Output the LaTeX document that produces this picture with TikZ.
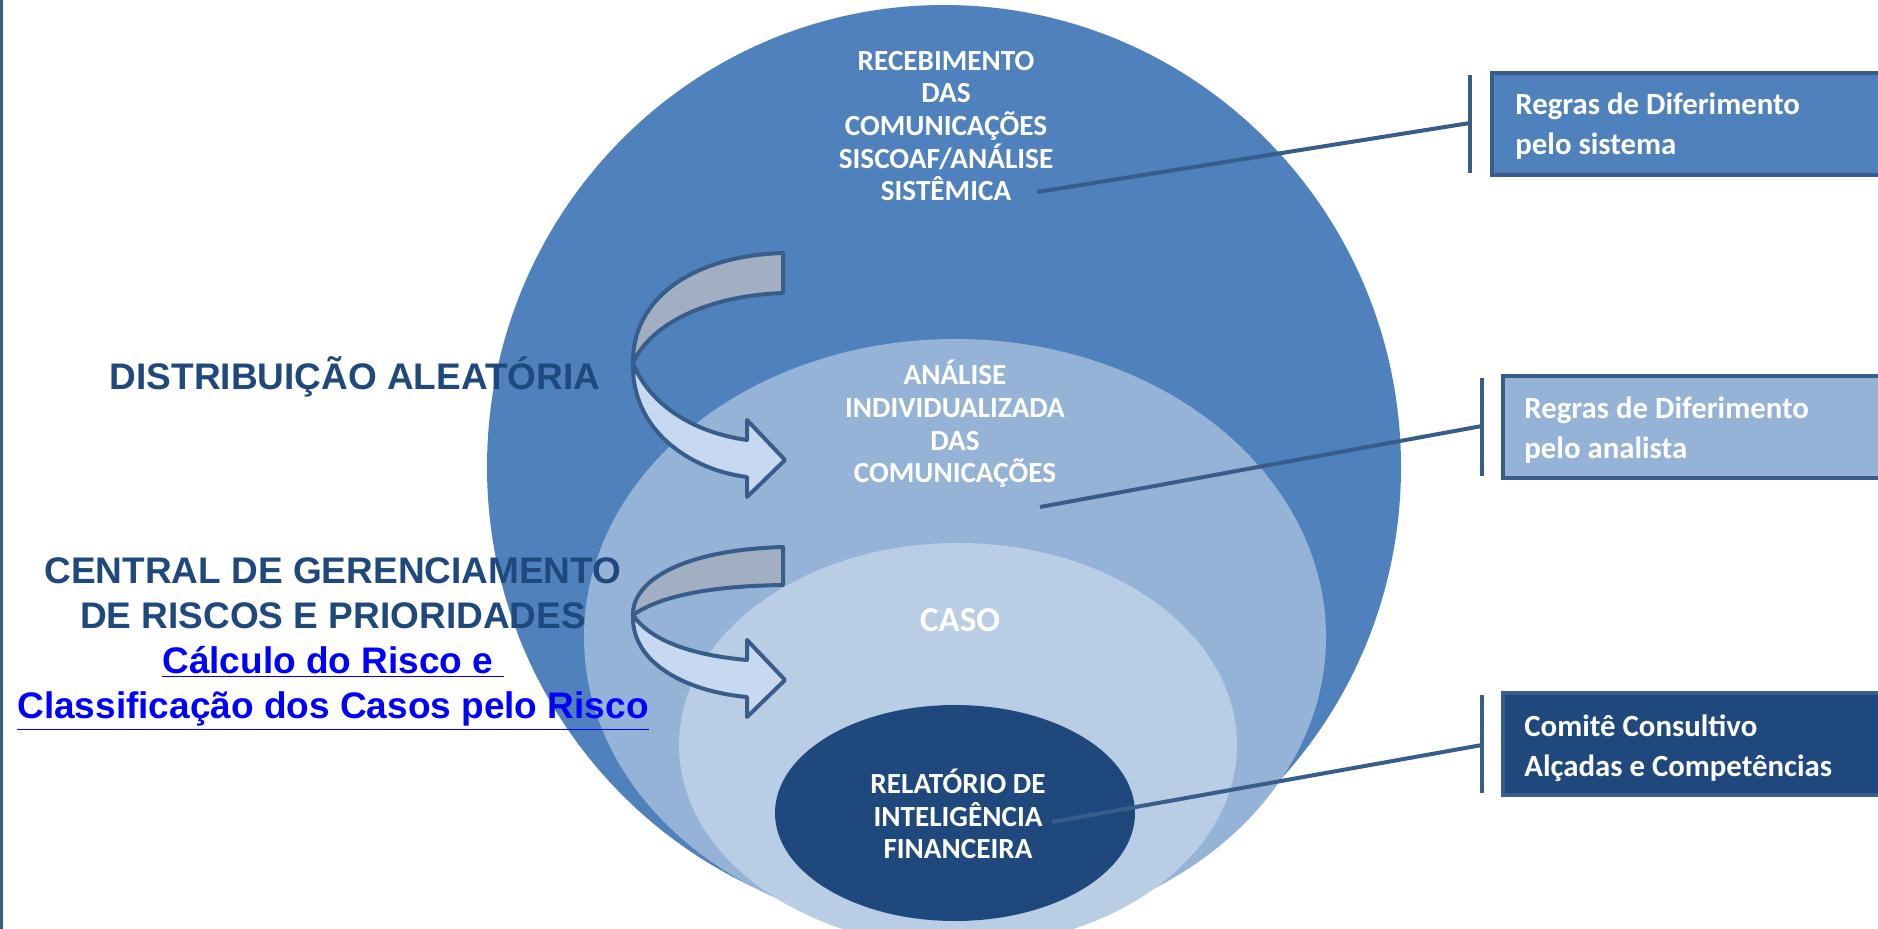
\documentclass[tikz,border=0pt]{standalone}
\usepackage{fontspec}
\setmainfont{Carlito}
\newfontfamily\arialfont{Liberation Sans}
\usepackage{xcolor}
\definecolor{bigblue}{HTML}{4F81BD}
\definecolor{midblue}{HTML}{95B3D7}
\definecolor{paleblue}{HTML}{B9CDE5}
\definecolor{darkblue}{HTML}{1F497D}
\definecolor{edgeblue}{HTML}{385D8A}
\definecolor{bandgray}{HTML}{A2AFC3}
\definecolor{bandlight}{HTML}{C6D9F1}
\definecolor{linkblue}{HTML}{0000FF}
\tikzset{%
  rimtext/.style={text=white, font=\bfseries\fontsize{14.6pt}{16.3pt}\selectfont, align=center},
  boxtext/.style={text=white, font=\bfseries\fontsize{15.4pt}{20pt}\selectfont, align=left, anchor=west, inner sep=0pt},
  sidetext/.style={text=darkblue, font=\arialfont\bfseries\fontsize{18.5pt}{22.6pt}\selectfont, align=center},
  leader/.style={draw=edgeblue, line width=2pt},
  ribbon/.style={draw=edgeblue, line width=2pt, line join=round},
  %panel/.style={draw=edgeblue, line width=2pt}
}

\begin{document}
\begin{tikzpicture}[x=0.5pt,y=-0.5pt]
    \useasboundingbox (0,0) rectangle (1878,929);
    \clip (0,0) rectangle (1878,929);
    \draw[edgeblue, line width=1.5pt] (1.5,0) -- (1.5,929);
    \fill[bigblue] (944,467) ellipse [x radius=457, y radius=462];
    \fill[midblue] (955,637) ellipse [x radius=371, y radius=298];
    \fill[paleblue] (958,745) ellipse [x radius=279, y radius=202];
    \fill[darkblue] (955,813) ellipse [x radius=180, y radius=108];
    \node[rimtext] (recebimento) at (946,126) {RECEBIMENTO\\DAS\\COMUNICAÇÕES\\SISCOAF/ANÁLISE\\SISTÊMICA};
    \node[rimtext] (analise) at (955,424) {ANÁLISE\\INDIVIDUALIZADA\\DAS\\COMUNICAÇÕES};
    \node[rimtext, font=\bfseries\fontsize{17.5pt}{20pt}\selectfont] (caso) at (960,620) {CASO};
    \node[rimtext] (relatorio) at (958,814) {RELATÓRIO DE\\INTELIGÊNCIA\\FINANCEIRA};
    \filldraw[ribbon, fill=bandgray] (783,253) .. controls (690,256) and (632,300) .. (633,363) .. controls (650,325) and (705,296) .. (783,293) -- cycle;
    \filldraw[ribbon, fill=bandlight] (633,363) .. controls (631,430) and (690,470) .. (747,477) -- (747,497) -- (785,460) -- (747,420) -- (747,440) .. controls (690,432) and (648,402) .. (633,363) -- cycle;
    \filldraw[ribbon, fill=bandgray] (783,547) .. controls (680,550) and (632,582) .. (633,615) .. controls (660,596) and (710,586) .. (783,585) -- cycle;
    \filldraw[ribbon, fill=bandlight] (633,615) .. controls (631,665) and (690,692) .. (747,697) -- (747,717) -- (785,680) -- (747,640) -- (747,660) .. controls (690,655) and (650,640) .. (633,615) -- cycle;
    \node[sidetext] (distrib) at (355,377) {DISTRIBUIÇÃO ALEATÓRIA};
    \node[sidetext] (central) at (333,644) {CENTRAL DE GERENCIAMENTO\\DE RISCOS E PRIORIDADES\\{\color{linkblue}\underline{Cálculo do Risco e\ }}\\{\color{linkblue}\underline{Classificação dos Casos pelo Risco}}};
    \draw[edgeblue, line width=2pt, fill=bigblue] (1492,73) rectangle (1890,175);
    \draw[edgeblue, line width=2pt, fill=midblue] (1503,376) rectangle (1890,478);
    \draw[edgeblue, line width=2pt, fill=darkblue] (1503,693) rectangle (1890,795);
    \node[boxtext] (sistema) at (1515,126) {Regras de Diferimento\\pelo sistema};
    \node[boxtext] (analista) at (1524,430) {Regras de Diferimento\\pelo analista};
    \node[boxtext] (comite) at (1524,748) {Comitê Consultivo\\Alçadas e Competências};
    \draw[leader] (1470,75) -- (1470,173);
    \draw[leader] (1482,378) -- (1482,476);
    \draw[leader] (1482,695) -- (1482,793);
    \coordinate (recFoot) at (1037,192);
    \coordinate (anaFoot) at (1040,507);
    \coordinate (relFoot) at (1052,822);
    \coordinate (sisBar) at (1470,123);
    \coordinate (anaBar) at (1482,426);
    \coordinate (comBar) at (1482,745);
    \draw[leader] (recFoot) -- (sisBar);
    \draw[leader] (anaFoot) -- (anaBar);
    \draw[leader] (relFoot) -- (comBar);
\end{tikzpicture}
\end{document}
